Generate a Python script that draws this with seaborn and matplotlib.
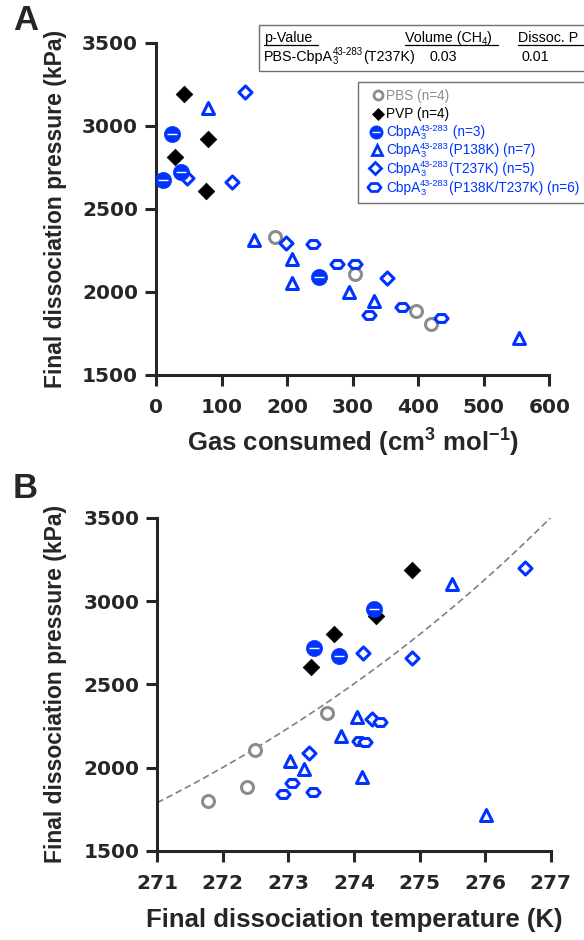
import numpy as np
import matplotlib
matplotlib.use("Agg")
import matplotlib.pyplot as plt
import seaborn as sns
from matplotlib.lines import Line2D
from matplotlib.patches import Rectangle
from matplotlib.path import Path

# ---------------- data ----------------
# Panel A: gas consumed (cm3 mol-1) vs final dissociation pressure (kPa)
pbs_gas = [182, 304, 397, 420]
pbs_pA = [2332, 2107, 1887, 1804]
pvp_gas = [42, 80, 29, 76]
pvp_pA = [3191, 2922, 2814, 2609]
cbp_gas = [25, 38, 10, 249]
cbp_pA = [2950, 2723, 2673, 2088]
p138_gas = [80, 150, 207, 207, 295, 333, 554]
p138_pA = [3105, 2312, 2196, 2051, 2001, 1945, 1720]
t237_gas = [136, 116, 47, 198, 353]
t237_pA = [3205, 2660, 2683, 2296, 2085]
dbl_gas = [239, 276, 304, 325, 375, 435]
dbl_pA = [2288, 2168, 2166, 1861, 1911, 1844]

# Panel B: final dissociation temperature (K) vs final dissociation pressure (kPa)
pbs_T = [271.78, 272.37, 272.49, 273.59]
pbs_pB = [1802, 1886, 2106, 2326]
pvp_T = [274.88, 274.34, 273.70, 273.34]
pvp_pB = [3186, 2910, 2804, 2602]
cbp_T = [274.31, 273.39, 273.77]
cbp_pB = [2950, 2720, 2670]
p138_T = [274.05, 273.80, 273.03, 273.23, 274.12, 275.49, 276.01]
p138_pB = [2306, 2190, 2042, 1990, 1942, 3100, 1716]
t237_T = [274.13, 274.89, 273.32, 276.61, 274.28]
t237_pB = [2686, 2656, 2086, 3196, 2290]
dbl_T = [272.91, 273.05, 273.37, 274.07, 274.17, 274.39]
dbl_pB = [1841, 1907, 1856, 2160, 2153, 2276]

# exponential fit shown in panel B (P = a * exp(b * (T - T0)))
fit_a, fit_b, fit_T0 = 1790.0, 0.1118, 271.0

# legend entries: list of segments; a tuple is (subscript, superscript)
CBP = ["CbpA", ("3", "43-283")]
legend_entries = [
    ["PBS (n=4)"],
    ["PVP (n=4)"],
    CBP + [" (n=3)"],
    CBP + ["(P138K) (n=7)"],
    CBP + ["(T237K) (n=5)"],
    CBP + ["(P138K/T237K) (n=6)"],
]
table_headers = [["p-Value"], ["Volume (CH", ("4", ""), ")"], ["Dissoc. P"]]
table_row = [["PBS-CbpA", ("3", "43-283"), "(T237K)"], ["0.03"], ["0.01"]]

# ---------------- style ----------------
sns.set_style("ticks")
plt.rcParams["font.family"] = ["Liberation Sans", "DejaVu Sans"]
plt.rcParams["mathtext.fontset"] = "custom"
plt.rcParams["mathtext.rm"] = "Liberation Sans"
plt.rcParams["mathtext.it"] = "Liberation Sans:italic"
plt.rcParams["mathtext.bf"] = "Liberation Sans:bold"

BLUE = "#0033ff"
GRAY = "#8c8c8c"
BLACK = "#000000"
LW = 2.2
TICKFONT = ["DejaVu Sans"]

hex_marker = Path([(-1, 0), (-0.5, 0.6), (0.5, 0.6), (1, 0), (0.5, -0.6), (-0.5, -0.6), (-1, 0)],
                  [Path.MOVETO] + [Path.LINETO] * 5 + [Path.CLOSEPOLY])

W, H = 584, 940
fig = plt.figure(figsize=(W / 100, H / 100), dpi=100)
renderer = fig.canvas.get_renderer()


def fx(px):
    return px / W


def fy(py):
    return 1 - py / H


def rich_text(x, y, segments, size, color, small=0.68):
    """Place text pieces (with small sub/superscripts) starting at pixel x, baseline y."""
    em = size * 100 / 72.0
    for seg in segments:
        if isinstance(seg, str):
            t = fig.text(fx(x), fy(y), seg, fontsize=size, color=color, va="baseline",
                         ha="left", zorder=11)
            x += t.get_window_extent(renderer).width
        else:
            sub, sup = seg
            w = 0
            if sub:
                t = fig.text(fx(x), fy(y + 0.22 * em), sub, fontsize=size * small, color=color,
                             va="baseline", ha="left", zorder=11)
                w = max(w, t.get_window_extent(renderer).width)
            if sup:
                t = fig.text(fx(x), fy(y - 0.42 * em), sup, fontsize=size * small, color=color,
                             va="baseline", ha="left", zorder=11)
                w = max(w, t.get_window_extent(renderer).width)
            x += w
    return x


axA = fig.add_axes([fx(156), fy(375), fx(549.3) - fx(156), fy(42.7) - fy(375)])
axB = fig.add_axes([fx(157.3), fy(851), fx(550.7) - fx(157.3), fy(517.7) - fy(851)])


def draw_groups(ax, pbs, pvp, cbp, p138, t237, dbl):
    sns.scatterplot(x=pbs[0], y=pbs[1], ax=ax, marker="o", s=74, color="white",
                    edgecolor=GRAY, linewidth=LW, zorder=3)
    sns.scatterplot(x=pvp[0], y=pvp[1], ax=ax, marker="D", s=72, color=BLACK,
                    edgecolor=BLACK, linewidth=0.5, zorder=3)
    sns.scatterplot(x=cbp[0], y=cbp[1], ax=ax, marker="o", s=135, color=BLUE,
                    edgecolor=BLUE, linewidth=0.5, zorder=4)
    sns.scatterplot(x=cbp[0], y=cbp[1], ax=ax, marker="_", s=55, color="white",
                    edgecolor="white", linewidth=1.0, zorder=5)
    sns.scatterplot(x=p138[0], y=p138[1], ax=ax, marker="^", s=74, color="white",
                    edgecolor=BLUE, linewidth=LW, zorder=3)
    sns.scatterplot(x=t237[0], y=t237[1], ax=ax, marker="D", s=44, color="white",
                    edgecolor=BLUE, linewidth=LW, zorder=3)
    sns.scatterplot(x=dbl[0], y=dbl[1], ax=ax, marker=hex_marker, s=90, color="white",
                    edgecolor=BLUE, linewidth=LW, zorder=3)


draw_groups(axA, (pbs_gas, pbs_pA), (pvp_gas, pvp_pA), (cbp_gas, cbp_pA),
            (p138_gas, p138_pA), (t237_gas, t237_pA), (dbl_gas, dbl_pA))
draw_groups(axB, (pbs_T, pbs_pB), (pvp_T, pvp_pB), (cbp_T, cbp_pB),
            (p138_T, p138_pB), (t237_T, t237_pB), (dbl_T, dbl_pB))

T_fit = np.linspace(271, 277, 200)
sns.lineplot(x=T_fit, y=fit_a * np.exp(fit_b * (T_fit - fit_T0)), ax=axB,
             color="#808080", linestyle=(0, (4, 2.2)), linewidth=1.2, zorder=2)

for ax in (axA, axB):
    ax.set_ylim(1500, 3500)
    ax.set_yticks([1500, 2000, 2500, 3000, 3500])
    for side in ("top", "right"):
        ax.spines[side].set_visible(False)
    for side in ("left", "bottom"):
        ax.spines[side].set_linewidth(LW)
    ax.tick_params(width=LW, length=8, labelsize=14.5, direction="out")
    ax.tick_params(axis="x", pad=8.5)
    ax.tick_params(axis="y", pad=5)
    ax.set_ylabel("Final dissociation pressure (kPa)", fontsize=16.5, fontweight="bold")

axA.yaxis.set_label_coords(-0.226, 0.5)
axB.yaxis.set_label_coords(-0.229, 0.5)

axA.set_xlim(0, 600)
axA.set_xticks([0, 100, 200, 300, 400, 500, 600])
axA.set_xlabel(r"Gas consumed (cm$^{\mathbf{3}}$ mol$^{\mathbf{-1}}$)", fontsize=18.5,
               fontweight="bold", va="baseline")
axA.xaxis.set_label_coords(0.5, (375 - 452) / 332.3)
axB.set_xlim(271, 277)
axB.set_xticks([271, 272, 273, 274, 275, 276, 277])
axB.set_xlabel("Final dissociation temperature (K)", fontsize=18.5, fontweight="bold",
               va="baseline")
axB.xaxis.set_label_coords(0.5, (851 - 927) / 333.3)

for ax in (axA, axB):
    for lbl in ax.get_xticklabels() + ax.get_yticklabels():
        lbl.set_fontweight("bold")
        lbl.set_family(TICKFONT)

fig.text(fx(13), fy(21), "A", fontsize=25, fontweight="bold", va="center", ha="left")
fig.text(fx(13), fy(489), "B", fontsize=25, fontweight="bold", va="center", ha="left")

# ---------------- legend (boxed key) ----------------
fig.add_artist(Rectangle((fx(358), fy(203)), fx(240), fy(82) - fy(203), transform=fig.transFigure,
                         facecolor="white", edgecolor="#707070", linewidth=1.0, zorder=10))
legend_styles = [
    dict(marker="o", ms=6.5, mfc="white", mec=GRAY, mew=2.0),
    dict(marker="D", ms=6.5, mfc=BLACK, mec=BLACK, mew=0.5),
    dict(marker="o", ms=9.5, mfc=BLUE, mec=BLUE, mew=0.5),
    dict(marker="^", ms=7.5, mfc="white", mec=BLUE, mew=2.0),
    dict(marker="D", ms=6.0, mfc="white", mec=BLUE, mew=2.0),
    dict(marker=hex_marker, ms=9.5, mfc="white", mec=BLUE, mew=2.0),
]
legend_colors = [GRAY, BLACK, BLUE, BLUE, BLUE, BLUE]
legend_y = [95, 113.5, 131.5, 149.5, 168, 187]
legend_mx = [378, 378, 376, 377, 375, 374]
for yc, mx, sty, col, ent in zip(legend_y, legend_mx, legend_styles, legend_colors, legend_entries):
    fig.add_artist(Line2D([fx(mx)], [fy(yc)], ls="", transform=fig.transFigure, zorder=11, **sty))
    if sty["mfc"] == BLUE:
        fig.add_artist(Line2D([fx(mx)], [fy(yc)], ls="", marker="_", ms=5.5, mec="white", mew=1.0,
                              transform=fig.transFigure, zorder=12))
    rich_text(386, yc + 4.8, ent, 9.8, col)

# ---------------- p-value table ----------------
fig.add_artist(Rectangle((fx(259), fy(71)), fx(340), fy(25) - fy(71), transform=fig.transFigure,
                         facecolor="white", edgecolor="#707070", linewidth=1.0, zorder=10))
hdr_x = [264, 405, 518]
for x, segs in zip(hdr_x, table_headers):
    rich_text(x, 42, segs, 10.3, BLACK)
ul = [(264, 318), (405, 498), (518, 584)]
for x0, x1 in ul:
    fig.add_artist(Line2D([fx(x0), fx(x1)], [fy(45), fy(45)], transform=fig.transFigure,
                          color="black", linewidth=0.9, zorder=11))
row_x = [264, 430, 522]
for x, segs in zip(row_x, table_row):
    rich_text(x, 61, segs, 10.3, BLACK)

fig.savefig("out.png", dpi=100)
